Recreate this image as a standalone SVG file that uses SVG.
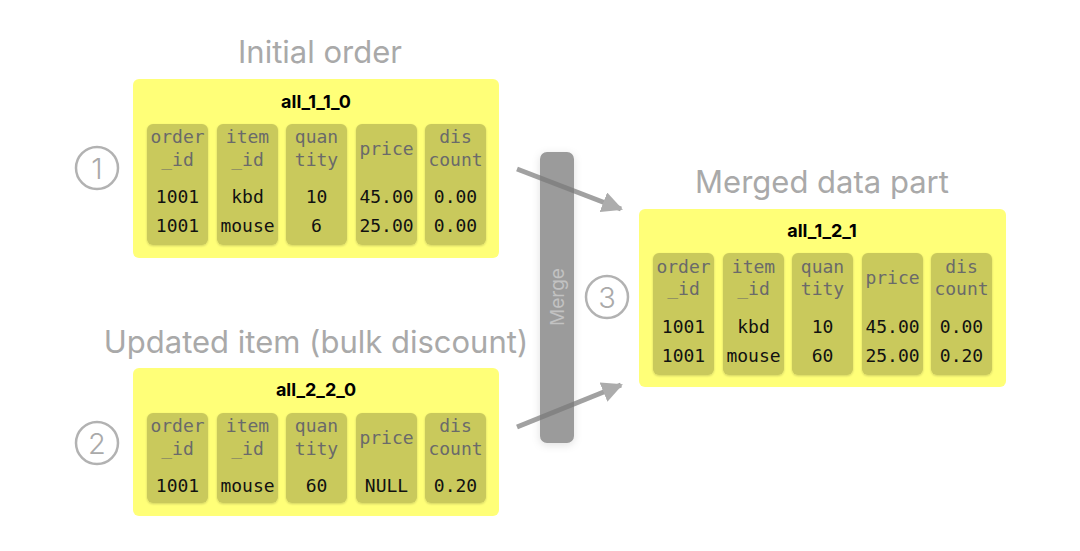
<svg xmlns="http://www.w3.org/2000/svg" width="1080" height="551" viewBox="0 0 1080 551">
<defs>
<filter id="sh" x="-20%" y="-20%" width="140%" height="140%">
<feDropShadow dx="0" dy="1" stdDeviation="1.2" flood-color="#000" flood-opacity="0.18"/>
</filter>
<filter id="bsh" x="-50%" y="-10%" width="200%" height="120%">
<feDropShadow dx="0" dy="2" stdDeviation="4" flood-color="#000" flood-opacity="0.12"/>
</filter>
<marker id="ah" viewBox="0 0 10 10" refX="9" refY="5" markerWidth="4.2" markerHeight="4.2" orient="auto" markerUnits="strokeWidth">
<path d="M0,0 L10,5 L0,10 z" fill="#8a8a8a"/>
</marker>
<style>
.box{fill:#ffff78;}
.cell{fill:#c9c95c;filter:url(#sh);}
.title{font-family:Inter,"Liberation Sans",sans-serif;font-size:31px;fill:#a9a9a9;text-anchor:middle;}
.bt{font-family:Inter,"Liberation Sans",sans-serif;font-size:18px;font-weight:bold;fill:#000;text-anchor:middle;}
.hd{font-family:"DejaVu Sans Mono","Liberation Mono",monospace;font-size:18px;fill:#6a6a6a;text-anchor:middle;}
.dt{font-family:"DejaVu Sans Mono","Liberation Mono",monospace;font-size:18px;fill:#111;text-anchor:middle;}
.circ{fill:none;stroke:#b2b2b2;stroke-width:2.5;}
.num{font-family:Inter,"Liberation Sans",sans-serif;font-size:29px;font-weight:300;fill:#aaaaaa;text-anchor:middle;}
.arr{stroke:#7a7a7a;stroke-width:5;fill:none;opacity:0.7;}
</style>
</defs>

<g id="merge-bar">
<rect x="540" y="152" width="34" height="291" rx="7" fill="#9b9b9b" filter="url(#bsh)"/>
<text x="557" y="297" transform="rotate(-90 557 297)" font-family="Inter,'Liberation Sans',sans-serif" font-size="19" fill="#c2c2c2" text-anchor="middle" dominant-baseline="central">Merge</text>
</g>

<g id="connectors">
<line class="arr" x1="517" y1="169" x2="621" y2="209" marker-end="url(#ah)"/>
<line class="arr" x1="517" y1="427" x2="621" y2="385" marker-end="url(#ah)"/>
</g>

<g id="label-1">
<text class="title" x="320" y="63">Initial order</text>
<circle class="circ" cx="97" cy="168" r="21"/>
<text class="num" x="97" y="179">1</text>
</g>

<g id="part-all_1_1_0">
<rect class="box" x="133" y="79" width="366" height="179" rx="6"/>
<text class="bt" x="316" y="108">all_1_1_0</text>
<rect class="cell" x="147" y="124" width="61" height="121" rx="6"/>
<rect class="cell" x="217" y="124" width="61" height="121" rx="6"/>
<rect class="cell" x="286" y="124" width="61" height="121" rx="6"/>
<rect class="cell" x="356" y="124" width="61" height="121" rx="6"/>
<rect class="cell" x="425" y="124" width="61" height="121" rx="6"/>
<text class="hd" x="177.5" y="143">order</text><text class="hd" x="177.5" y="166">_id</text>
<text class="hd" x="247.5" y="143">item</text><text class="hd" x="247.5" y="166">_id</text>
<text class="hd" x="316.5" y="143">quan</text><text class="hd" x="316.5" y="166">tity</text>
<text class="hd" x="386.5" y="155">price</text>
<text class="hd" x="455.5" y="143">dis</text><text class="hd" x="455.5" y="166">count</text>
<text class="dt" x="177.5" y="203">1001</text><text class="dt" x="177.5" y="232">1001</text>
<text class="dt" x="247.5" y="203">kbd</text><text class="dt" x="247.5" y="232">mouse</text>
<text class="dt" x="316.5" y="203">10</text><text class="dt" x="316.5" y="232">6</text>
<text class="dt" x="386.5" y="203">45.00</text><text class="dt" x="386.5" y="232">25.00</text>
<text class="dt" x="455.5" y="203">0.00</text><text class="dt" x="455.5" y="232">0.00</text>
</g>

<g id="label-2">
<text class="title" x="316" y="353">Updated item (bulk discount)</text>
<circle class="circ" cx="97" cy="443" r="21"/>
<text class="num" x="97" y="454">2</text>
</g>

<g id="part-all_2_2_0">
<rect class="box" x="133" y="368" width="366" height="148" rx="6"/>
<text class="bt" x="316" y="396">all_2_2_0</text>
<rect class="cell" x="147" y="413" width="61" height="90" rx="6"/>
<rect class="cell" x="217" y="413" width="61" height="90" rx="6"/>
<rect class="cell" x="286" y="413" width="61" height="90" rx="6"/>
<rect class="cell" x="356" y="413" width="61" height="90" rx="6"/>
<rect class="cell" x="425" y="413" width="61" height="90" rx="6"/>
<text class="hd" x="177.5" y="432">order</text><text class="hd" x="177.5" y="455">_id</text>
<text class="hd" x="247.5" y="432">item</text><text class="hd" x="247.5" y="455">_id</text>
<text class="hd" x="316.5" y="432">quan</text><text class="hd" x="316.5" y="455">tity</text>
<text class="hd" x="386.5" y="444">price</text>
<text class="hd" x="455.5" y="432">dis</text><text class="hd" x="455.5" y="455">count</text>
<text class="dt" x="177.5" y="492">1001</text>
<text class="dt" x="247.5" y="492">mouse</text>
<text class="dt" x="316.5" y="492">60</text>
<text class="dt" x="386.5" y="492">NULL</text>
<text class="dt" x="455.5" y="492">0.20</text>
</g>

<g id="label-3">
<text class="title" x="822" y="193">Merged data part</text>
<circle class="circ" cx="607" cy="297" r="21"/>
<text class="num" x="607" y="308">3</text>
</g>

<g id="part-all_1_2_1">
<rect class="box" x="639" y="209" width="367" height="178" rx="6"/>
<text class="bt" x="822" y="237">all_1_2_1</text>
<rect class="cell" x="653" y="253" width="61" height="122" rx="6"/>
<rect class="cell" x="723" y="253" width="61" height="122" rx="6"/>
<rect class="cell" x="792" y="253" width="61" height="122" rx="6"/>
<rect class="cell" x="862" y="253" width="61" height="122" rx="6"/>
<rect class="cell" x="931" y="253" width="61" height="122" rx="6"/>
<text class="hd" x="683.5" y="273">order</text><text class="hd" x="683.5" y="295">_id</text>
<text class="hd" x="753.5" y="273">item</text><text class="hd" x="753.5" y="295">_id</text>
<text class="hd" x="822.5" y="273">quan</text><text class="hd" x="822.5" y="295">tity</text>
<text class="hd" x="892.5" y="284">price</text>
<text class="hd" x="961.5" y="273">dis</text><text class="hd" x="961.5" y="295">count</text>
<text class="dt" x="683.5" y="333">1001</text><text class="dt" x="683.5" y="362">1001</text>
<text class="dt" x="753.5" y="333">kbd</text><text class="dt" x="753.5" y="362">mouse</text>
<text class="dt" x="822.5" y="333">10</text><text class="dt" x="822.5" y="362">60</text>
<text class="dt" x="892.5" y="333">45.00</text><text class="dt" x="892.5" y="362">25.00</text>
<text class="dt" x="961.5" y="333">0.00</text><text class="dt" x="961.5" y="362">0.20</text>
</g>
</svg>
